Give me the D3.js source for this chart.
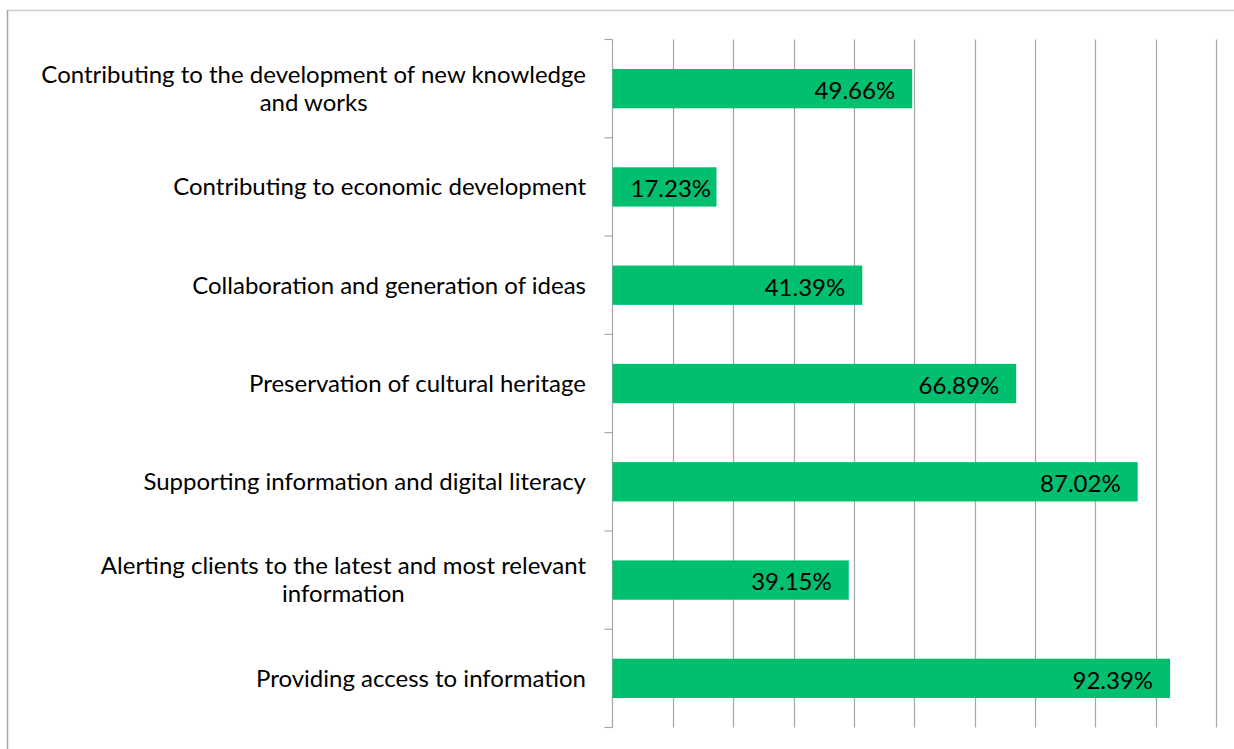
<!DOCTYPE html>
<html>
<head>
<meta charset="utf-8">
<script src="https://cdn.jsdelivr.net/npm/d3@7"></script>
<style>
  html, body { margin: 0; padding: 0; background: #fff; }
  svg { display: block; }
</style>
</head>
<body>
<div id="chart"></div>
<script>
const categories = [
  "Contributing to the development of new knowledge and works",
  "Contributing to economic development",
  "Collaboration and generation of ideas",
  "Preservation of cultural heritage",
  "Supporting information and digital literacy",
  "Alerting clients to the latest and most relevant information",
  "Providing access to information"
]
const values = [49.66, 17.23, 41.39, 66.89, 87.02, 39.15, 92.39]
const gridTicks = [0, 10, 20, 30, 40, 50, 60, 70, 80, 90, 100]

const width = 1234, height = 749
const margin = { top: 39.5, right: 18, bottom: 21.5, left: 612.5 }
const fontFamily = "Lato, 'Open Sans', sans-serif"
const fontSize = 24

const svg = d3.select('#chart').append('svg')
  .attr('width', width)
  .attr('height', height)

// frame (only top and left edges visible in the crop)
svg.append('line').attr('x1', 7).attr('x2', width).attr('y1', 10.5).attr('y2', 10.5)
  .attr('stroke', '#d0d0d0').attr('stroke-width', 1.5)
svg.append('line').attr('x1', 7.5).attr('x2', 7.5).attr('y1', 10).attr('y2', height)
  .attr('stroke', '#a8a8a8').attr('stroke-width', 1.5)

const x = d3.scaleLinear().domain([0, 100]).range([margin.left, width - margin.right])
const y = d3.scaleBand().domain(categories).range([margin.top, height - margin.bottom]).paddingInner(0.6).paddingOuter(0.3)
const band = (height - margin.bottom - margin.top) / categories.length

// vertical gridlines
svg.append('g').selectAll('line').data(gridTicks.slice(1)).join('line')
  .attr('x1', d => Math.round(x(d)) + 0.5).attr('x2', d => Math.round(x(d)) + 0.5)
  .attr('y1', margin.top).attr('y2', height - margin.bottom)
  .attr('stroke', '#a6a6a6').attr('stroke-width', 1.2)

// category axis with ticks at band boundaries
const axis = svg.append('g')
axis.append('line')
  .attr('x1', margin.left).attr('x2', margin.left)
  .attr('y1', margin.top).attr('y2', height - margin.bottom)
  .attr('stroke', '#a6a6a6').attr('stroke-width', 1.2)
axis.selectAll('.tick').data(d3.range(categories.length + 1)).join('line')
  .attr('class', 'tick')
  .attr('x1', margin.left - 8).attr('x2', margin.left)
  .attr('y1', i => margin.top + i * band).attr('y2', i => margin.top + i * band)
  .attr('stroke', '#a6a6a6').attr('stroke-width', 1.2)

// bars
svg.append('g').selectAll('rect').data(values).join('rect')
  .attr('x', x(0))
  .attr('y', (d, i) => y(categories[i]))
  .attr('width', d => x(d) - x(0))
  .attr('height', y.bandwidth())
  .attr('fill', '#00BF6F')

// category labels, wrapped; lines centred on each other, block right-aligned
const labels = svg.append('g')
  .attr('font-family', fontFamily)
  .attr('font-size', fontSize)
  .attr('fill', '#000')

const probe = labels.append('text').text('Contributing to the development of new knowledge')
const maxLineWidth = probe.node().getComputedTextLength() + 4
probe.remove()

categories.forEach(cat => {
  const t = labels.append('text').attr('text-anchor', 'middle')
  const words = cat.split(' ')
  let lines = [], line = []
  const tmp = t.append('tspan')
  words.forEach(w => {
    line.push(w)
    tmp.text(line.join(' '))
    if (tmp.node().getComputedTextLength() > maxLineWidth && line.length > 1) {
      line.pop()
      lines.push(line.join(' '))
      line = [w]
    }
  })
  lines.push(line.join(' '))
  // widest line decides the centre
  let widest = 0
  lines.forEach(l => {
    tmp.text(l)
    widest = Math.max(widest, tmp.node().getComputedTextLength())
  })
  tmp.remove()
  const cx = 586 - widest / 2
  const cy = y(cat) + y.bandwidth() / 2
  const lh = 28
  lines.forEach((l, k) => {
    t.append('tspan')
      .attr('x', cx)
      .attr('y', cy + (k - (lines.length - 1) / 2) * lh)
      .attr('dy', '0.35em')
      .text(l)
  })
})

// value labels inside the bar end
const valueLabels = svg.append('g')
  .attr('font-family', fontFamily)
  .attr('font-size', fontSize)
  .attr('fill', '#000')
values.forEach((v, i) => {
  const t = valueLabels.append('text')
    .attr('text-anchor', 'end')
    .attr('y', y(categories[i]) + y.bandwidth() / 2 + 2)
    .attr('dy', '0.35em')
    .text(v.toFixed(2) + '%')
  const w = t.node().getComputedTextLength()
  t.attr('x', Math.max(x(v) - 17, x(0) + 18 + w))
})
</script>
</body>
</html>
